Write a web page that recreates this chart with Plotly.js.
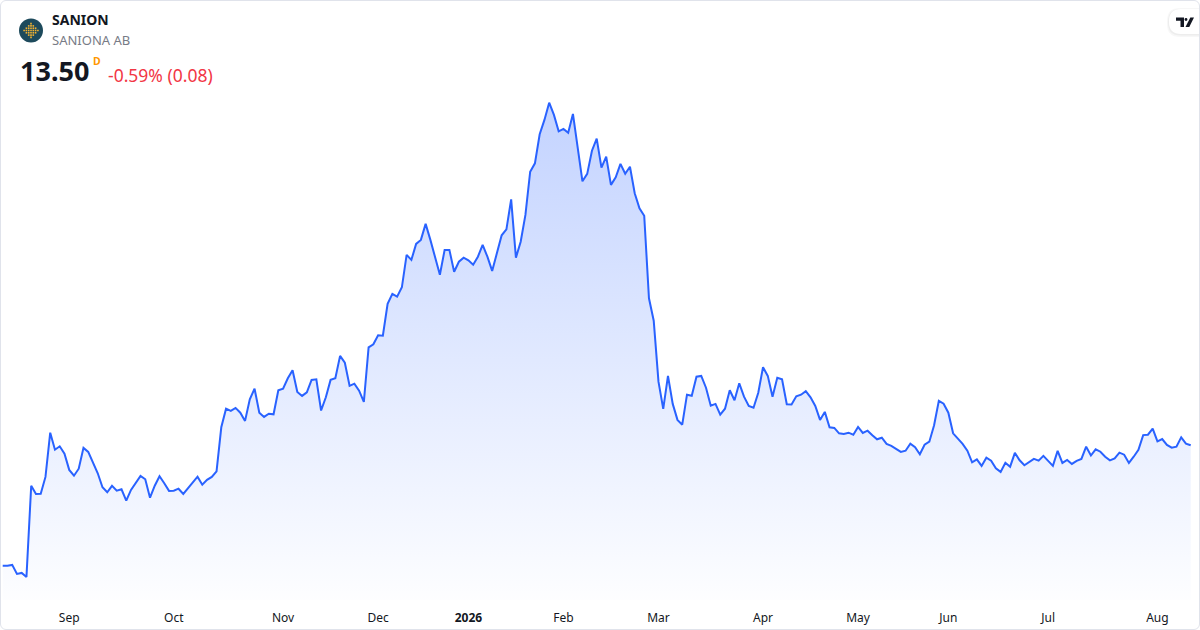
<!DOCTYPE html>
<html>
<head>
<meta charset="utf-8">
<script src="https://cdn.plot.ly/plotly-3.0.1.min.js"></script>
<style>
  html, body { margin: 0; padding: 0; background: #ffffff; }
  #wrap { position: relative; width: 1200px; height: 630px; overflow: hidden; }
  #chart { position: absolute; left: 0; top: 0; width: 1200px; height: 630px; }
  #frame { position: absolute; left: 0; top: 0; width: 1200px; height: 630px; box-sizing: border-box;
           border: 1px solid #e0e3eb; border-radius: 6px; pointer-events: none; }
</style>
</head>
<body>
<div id="wrap"><div id="chart"></div><div id="frame"></div></div>
<script>
// ---------- data ----------
const symbol = 'SANION';
const companyName = 'SANIONA AB';
const lastPrice = '13.50';
const changeText = '-0.59% (0.08)';

// trading calendar (Nasdaq Stockholm), one bar per trading day
const firstDay = '2025-08-12';
const lastDay = '2026-08-12';
const holidays = ['2025-12-24','2025-12-25','2025-12-26','2025-12-31','2026-01-01','2026-01-06',
                  '2026-04-03','2026-04-06','2026-05-01','2026-05-14','2026-06-19'];

// daily closes (SEK)
const closes = [
  7.48, 7.48, 7.52, 7.07, 7.12, 6.92, 11.48, 11.07, 11.08, 11.92,
  14.13, 13.28, 13.45, 13.08, 12.27, 11.98, 12.33, 13.37, 13.17, 12.65,
  12.10, 11.40, 11.15, 11.47, 11.23, 11.30, 10.73, 11.27, 11.65, 11.97,
  11.80, 10.88, 11.48, 11.95, 11.60, 11.22, 11.23, 11.33, 11.07, 11.35,
  11.68, 11.93, 11.53, 11.77, 11.92, 12.20, 14.40, 15.33, 15.22, 15.37,
  15.13, 14.72, 15.80, 16.33, 15.13, 14.92, 15.08, 15.05, 16.25, 16.33,
  16.85, 17.25, 16.17, 15.97, 16.15, 16.77, 16.80, 15.24, 15.90, 16.77,
  16.85, 17.97, 17.63, 16.47, 16.58, 16.23, 15.67, 18.40, 18.55, 19.00,
  18.98, 20.57, 21.07, 20.93, 21.40, 23.02, 22.77, 23.57, 23.77, 24.57,
  23.77, 22.90, 22.03, 23.27, 23.27, 22.18, 22.68, 22.88, 22.75, 22.53,
  22.93, 23.52, 22.93, 22.22, 23.10, 24.00, 24.30, 25.80, 22.88, 23.68,
  25.02, 27.18, 27.60, 29.05, 29.77, 30.63, 30.02, 29.20, 29.32, 29.13,
  30.07, 28.35, 26.70, 27.07, 28.23, 28.83, 27.38, 27.93, 26.52, 26.90,
  27.57, 27.08, 27.43, 26.10, 25.35, 24.98, 20.85, 19.73, 16.68, 15.32,
  16.97, 15.57, 14.77, 14.53, 16.03, 15.98, 16.93, 16.97, 16.38, 15.48,
  15.57, 15.03, 15.33, 16.25, 15.75, 16.60, 15.93, 15.47, 15.38, 16.13,
  17.40, 16.97, 15.93, 16.88, 16.80, 15.55, 15.54, 15.95, 16.03, 16.21,
  15.90, 15.47, 14.77, 15.17, 14.40, 14.37, 14.10, 14.07, 14.13, 14.03,
  14.42, 14.12, 14.23, 14.00, 13.80, 13.88, 13.57, 13.47, 13.30, 13.17,
  13.23, 13.58, 13.40, 13.05, 13.53, 13.68, 14.50, 15.72, 15.58, 15.13,
  14.10, 13.85, 13.57, 13.23, 12.65, 12.80, 12.47, 12.88, 12.73, 12.35,
  12.17, 12.63, 12.43, 13.12, 12.75, 12.50, 12.67, 12.82, 12.73, 12.97,
  12.72, 12.47, 13.22, 12.62, 12.77, 12.57, 12.72, 12.82, 13.43, 12.99,
  13.30, 13.18, 12.93, 12.75, 12.85, 13.13, 13.03, 12.62, 12.93, 13.27,
  14.01, 14.03, 14.33, 13.70, 13.81, 13.52, 13.38, 13.43, 13.90, 13.58,
  13.50
];

const monthLabels = ['Sep','Oct','Nov','Dec','<b>2026</b>','Feb','Mar','Apr','May','Jun','Jul','Aug'];

// ---------- build trading-day categories ----------
function tradingDays(from, to, skip) {
  const out = [];
  const d = new Date(from + 'T00:00:00Z');
  const end = new Date(to + 'T00:00:00Z');
  while (d <= end) {
    const iso = d.toISOString().slice(0, 10);
    const wd = d.getUTCDay();
    if (wd !== 0 && wd !== 6 && skip.indexOf(iso) < 0) out.push(iso);
    d.setUTCDate(d.getUTCDate() + 1);
  }
  return out;
}
const dates = tradingDays(firstDay, lastDay, holidays);

// first trading day of each month after the first one
const tickDates = [];
for (let i = 1; i < dates.length; i++) {
  if (dates[i].slice(0, 7) !== dates[i - 1].slice(0, 7)) tickDates.push(dates[i]);
}

// ---------- geometry helpers (pixel -> paper) ----------
const W = 1200, PH = 600;           // plot area is 1200 x 600 (bottom margin 30)
const px = x => x / W;
const py = y => (PH - y) / PH;
const P = (x, y) => px(x).toFixed(5) + ',' + py(y).toFixed(5);

const shapes = [];
// company logo: dark disc with yellow dot pattern
shapes.push({type: 'circle', xref: 'paper', yref: 'paper', x0: px(19), x1: px(43), y0: py(42.5), y1: py(18.5),
             fillcolor: '#1d4a5c', line: {width: 0}, layer: 'above'});
const cx = 31, cy = 30.5, u = 2.3, s = 0.8;
for (let i = -3; i <= 3; i++) {
  for (let j = -3; j <= 3; j++) {
    const m = Math.abs(i) + Math.abs(j);
    if (m <= 3 && (i === 0 || j === 0 || m === 3 || (m === 2 && Math.abs(i) === 1))) {
      const x = cx + i * u, y = cy + j * u;
      shapes.push({type: 'rect', xref: 'paper', yref: 'paper', x0: px(x - s), x1: px(x + s), y0: py(y + s), y1: py(y - s),
                   fillcolor: '#f3b331', line: {width: 0}, layer: 'above'});
    }
  }
}
// TradingView badge (pill with soft shadow) top right
function pill(x0, y0, x1, y1, r) {
  return 'M' + P(x0 + r, y0) + ' L' + P(x1, y0) + ' L' + P(x1, y1) + ' L' + P(x0 + r, y1) +
         ' Q' + P(x0, y1) + ' ' + P(x0, y1 - r) + ' L' + P(x0, y0 + r) + ' Q' + P(x0, y0) + ' ' + P(x0 + r, y0) + ' Z';
}
shapes.push({type: 'path', xref: 'paper', yref: 'paper', path: pill(1167, 8, 1201, 37, 13),
             fillcolor: 'rgba(0,0,0,0.03)', line: {width: 0}, layer: 'above'});
shapes.push({type: 'path', xref: 'paper', yref: 'paper', path: pill(1168, 9, 1201, 35.5, 12.5),
             fillcolor: 'rgba(0,0,0,0.04)', line: {width: 0}, layer: 'above'});
shapes.push({type: 'path', xref: 'paper', yref: 'paper', path: pill(1169, 9, 1201, 34, 12),
             fillcolor: '#ffffff', line: {width: 0}, layer: 'above'});
// logo glyph
shapes.push({type: 'path', xref: 'paper', yref: 'paper',
             path: 'M' + P(1176, 17.5) + ' L' + P(1184, 17.5) + ' L' + P(1184, 27) + ' L' + P(1180.5, 27) +
                   ' L' + P(1180.5, 20.8) + ' L' + P(1176, 20.8) + ' Z',
             fillcolor: '#131722', line: {width: 0}, layer: 'above'});
shapes.push({type: 'circle', xref: 'paper', yref: 'paper', x0: px(1184.6), x1: px(1187.4), y0: py(20.9), y1: py(18.1),
             fillcolor: '#131722', line: {width: 0}, layer: 'above'});
shapes.push({type: 'path', xref: 'paper', yref: 'paper',
             path: 'M' + P(1190.3, 17.5) + ' L' + P(1194, 17.5) + ' L' + P(1189.3, 27) + ' L' + P(1185.5, 27) + ' Z',
             fillcolor: '#131722', line: {width: 0}, layer: 'above'});

// ---------- texts ----------
const font = '"Noto Sans", "Open Sans", sans-serif';
const ann = (x, y, text, size, color, extra) => Object.assign({
  xref: 'paper', yref: 'paper', x: px(x), y: py(y), xanchor: 'left', yanchor: 'middle',
  text: text, showarrow: false, font: {family: font, size: size, color: color}
}, extra || {});
const annotations = [
  ann(50, 20, '<b>' + symbol + '</b>', 14, '#131722'),
  ann(50, 40, companyName, 13, '#787b86'),
  ann(18, 71, '<b>' + lastPrice + '</b>', 27, '#131722'),
  ann(91, 61, '<b>D</b>', 10.5, '#ff9800'),
  ann(106, 75, changeText, 17.5, '#f23645')
];

// ---------- chart ----------
const minY = 5.765, maxY = 35.765;
const trace = {
  type: 'scatter', mode: 'lines', x: dates, y: closes,
  line: {color: '#2962ff', width: 2, shape: 'linear'},
  fill: 'tozeroy',
  fillgradient: {type: 'vertical', start: minY, stop: Math.max.apply(null, closes),
                 colorscale: [[0, 'rgba(41,98,255,0.01)'], [1, 'rgba(41,98,255,0.28)']]},
  hoverinfo: 'skip'
};

const step = 4.752, firstX = 2.7;
const layout = {
  width: 1200, height: 630,
  margin: {l: 0, r: 0, t: 0, b: 30, pad: 0},
  paper_bgcolor: '#ffffff', plot_bgcolor: '#ffffff',
  showlegend: false, hovermode: false,
  xaxis: {
    type: 'category', categoryorder: 'trace',
    range: [-firstX / step, -firstX / step + W / step],
    tickmode: 'array', tickvals: tickDates, ticktext: monthLabels,
    showgrid: false, zeroline: false, showline: false, ticks: '',
    tickfont: {family: font, size: 12, color: '#131722'},
    ticklabelstandoff: 9, fixedrange: true
  },
  yaxis: {range: [minY, maxY], visible: false, showgrid: false, zeroline: false, fixedrange: true},
  shapes: shapes,
  annotations: annotations
};

Plotly.newPlot('chart', [trace], layout, {displayModeBar: false, staticPlot: true});
</script>
</body>
</html>
